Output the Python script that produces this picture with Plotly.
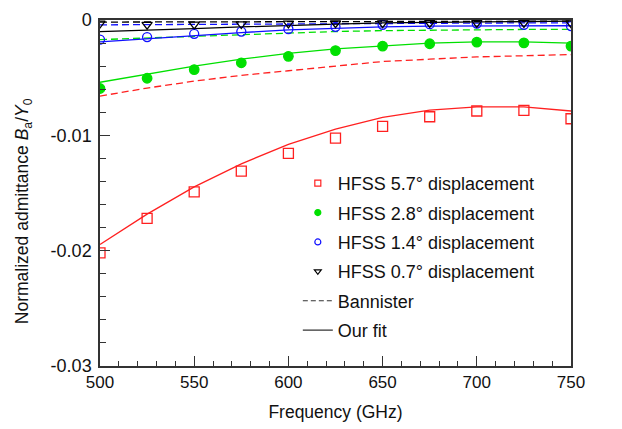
import plotly.graph_objects as go

freq = [500, 525, 550, 575, 600, 625, 650, 675, 700, 725, 750]

# HFSS data
hfss_57 = [-0.0202, -0.0172, -0.0149, -0.0131, -0.01156, -0.01025, -0.00922, -0.00839, -0.00789, -0.00783, -0.00856]
hfss_28 = [-0.00594, -0.00505, -0.0043, -0.00371, -0.00315, -0.00265, -0.00226, -0.00206, -0.00192, -0.00198, -0.00226]
hfss_14 = [-0.0017, -0.00148, -0.0012, -0.001, -0.00078, -0.00059, -0.00042, -0.00036, -0.00031, -0.00042, -0.00053]
hfss_07 = [-0.0003, -0.0004, -0.00038, -0.00035, -0.0003, -0.00028, -0.00027, -0.00026, -0.00025, -0.00025, -0.00027]

# Bannister (dashed)
ban_57 = [-0.0066, -0.0059, -0.0053, -0.0048, -0.0044, -0.0040, -0.0036, -0.0034, -0.0032, -0.0031, -0.0030]
ban_28 = [-0.0017, -0.00155, -0.0014, -0.00125, -0.0011, -0.001, -0.00092, -0.00087, -0.00084, -0.00082, -0.00081]
ban_14 = [-0.00042, -0.0004, -0.00037, -0.00034, -0.0003, -0.00028, -0.00027, -0.00026, -0.00025, -0.00025, -0.00025]
ban_07 = [-0.00018, -0.00017, -0.00016, -0.00015, -0.00014, -0.00013, -0.00012, -0.00011, -0.0001, -0.0001, -0.0001]

# Our fit (solid)
fit_57 = [-0.01947, -0.01683, -0.01447, -0.01247, -0.01078, -0.00947, -0.00844, -0.00781, -0.00753, -0.00753, -0.00789]
fit_28 = [-0.0054, -0.0047, -0.0040, -0.0034, -0.0029, -0.0025, -0.00225, -0.0020, -0.0019, -0.0019, -0.0020]
fit_14 = [-0.0019, -0.00162, -0.00134, -0.00109, -0.00086, -0.0007, -0.00059, -0.00053, -0.0005, -0.0005, -0.0005]
fit_07 = [-0.001, -0.0009, -0.00075, -0.0006, -0.00045, -0.00035, -0.00025, -0.0002, -0.00015, -0.0001, -0.0001]

y_tickvals = [0, -0.01, -0.02, -0.03]
y_ticktext = ["0", "-0.01", "-0.02", "-0.03"]
x_tickvals = [500, 550, 600, 650, 700, 750]

RED = "#ff2020"
GREEN = "#00e000"
BLUE = "#1010ff"
BLACK = "#000000"

series = [
    ("HFSS 5.7° displacement", hfss_57, ban_57, fit_57, RED, "square-open", 10),
    ("HFSS 2.8° displacement", hfss_28, ban_28, fit_28, GREEN, "circle", 9.5),
    ("HFSS 1.4° displacement", hfss_14, ban_14, fit_14, BLUE, "circle-open", 9),
    ("HFSS 0.7° displacement", hfss_07, ban_07, fit_07, BLACK, "triangle-down-open", 9),
]

FONT = "Liberation Sans, Arial, sans-serif"

fig = go.Figure()

for name, pts, ban, fit, col, sym, ms in series:
    fig.add_trace(go.Scatter(x=freq, y=ban, mode="lines", showlegend=False,
                             line=dict(color=col, width=1.3, dash="7px,4px")))
    fig.add_trace(go.Scatter(x=freq, y=fit, mode="lines", showlegend=False,
                             line=dict(color=col, width=1.3)))

for name, pts, ban, fit, col, sym, ms in series:
    fig.add_trace(go.Scatter(x=freq, y=pts, mode="markers", showlegend=False,
                             marker=dict(color=col, symbol=sym, size=ms,
                                         line=dict(color=col, width=1.3))))

# legend entries
for i, (name, pts, ban, fit, col, sym, ms) in enumerate(series):
    fig.add_trace(go.Scatter(x=[None], y=[None], mode="markers", name=name,
                             legendgroup=f"g{i}",
                             marker=dict(color=col, symbol=sym, size=6,
                                         line=dict(color=col, width=1.2))))
fig.add_trace(go.Scatter(x=[None], y=[None], mode="lines", name="Bannister",
                         legendgroup="g4",
                         line=dict(color="#333333", width=1.2, dash="5px,3px")))
fig.add_trace(go.Scatter(x=[None], y=[None], mode="lines", name="Our fit",
                         legendgroup="g5",
                         line=dict(color="#333333", width=1.2)))

title_font = dict(family=FONT, size=17.5, color="#111111")

fig.update_layout(
    width=622, height=429,
    margin=dict(l=100, r=51, t=10, b=62),
    paper_bgcolor="white", plot_bgcolor="white",
    font=dict(family=FONT, size=17, color="#111111"),
    showlegend=True,
    legend=dict(x=0.42, y=0.581, xanchor="left", yanchor="top",
                bgcolor="rgba(0,0,0,0)", tracegroupgap=3,
                font=dict(family=FONT, size=18, color="#111111")),
    xaxis=dict(range=[500, 750], tickvals=x_tickvals, ticks="inside", ticklen=10,
               tickwidth=1, tickcolor="#333333",
               minor=dict(dtick=10, ticks="inside", ticklen=5, tickcolor="#333333", tickwidth=1),
               showline=True, linecolor="#333333", linewidth=1.5, mirror=True,
               showgrid=False, zeroline=False,
               title=dict(text="Frequency (GHz)", standoff=15, font=title_font),
               tickfont=dict(family=FONT, size=17, color="#111111")),
    yaxis=dict(range=[-0.03, 0], tickvals=y_tickvals, ticktext=y_ticktext,
               ticks="inside", ticklen=10, tickwidth=1, tickcolor="#333333",
               ticklabelstandoff=3,
               minor=dict(dtick=0.002, ticks="inside", ticklen=6, tickcolor="#333333", tickwidth=1),
               showline=True, linecolor="#333333", linewidth=1.5, mirror=True,
               showgrid=False, zeroline=False,
               tickfont=dict(family=FONT, size=18, color="#111111")),
    annotations=[dict(
        text="Normalized admittance <i>B</i><sub>a</sub>/<i>Y</i><sub>0</sub>",
        xref="paper", yref="paper", x=-0.161, y=0.448, xanchor="center", yanchor="middle",
        textangle=-90, showarrow=False, font=title_font)],
)

fig.write_html("out.html")
